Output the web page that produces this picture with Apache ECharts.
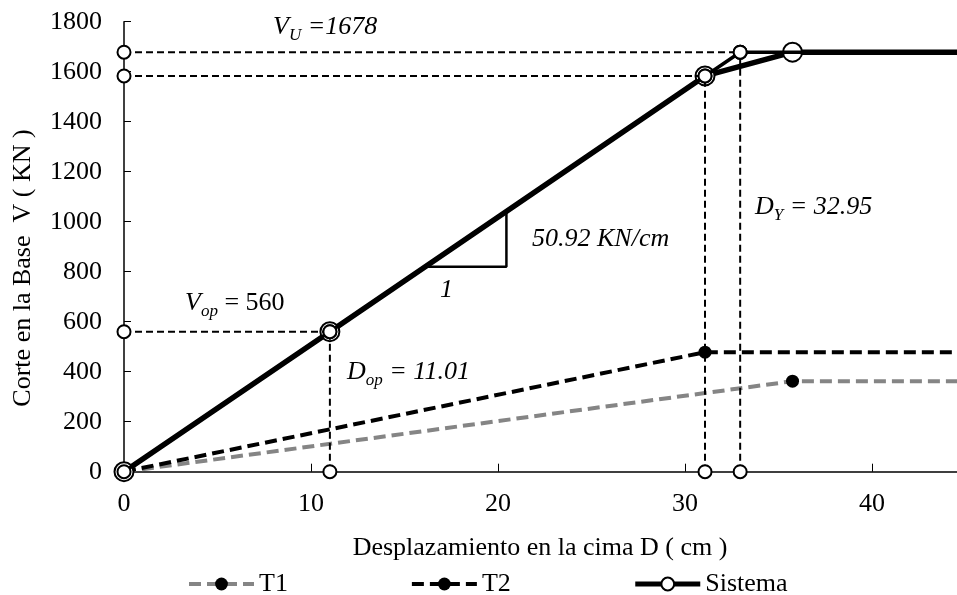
<!DOCTYPE html>
<html>
<head>
<meta charset="utf-8">
<script src="https://cdn.jsdelivr.net/npm/echarts@6/dist/echarts.min.js"></script>
<style>
html,body{margin:0;padding:0;background:#fff;}
#chart{width:957px;height:595px;}
</style>
</head>
<body>
<div id="chart"></div>
<script>
// ---- data ----
const sistemaX = [0, 11.01, 31.07, 35.75, 45];
const sistemaV = [0, 560, 1583, 1678, 1678];
const bilinearX = [0, 32.95, 45];
const bilinearV = [0, 1678, 1678];
const t1X = [0, 35.75, 45];
const t1V = [0, 362, 362];
const t2X = [0, 31.07, 45];
const t2V = [0, 478, 478];
const refD = [11.01, 31.07, 32.95];
const refV = [560, 1583, 1678];
const slopeX = [16.25, 20.45, 20.45];
const slopeV = [820, 820, 1040];
const legendNames = ['T1', 'T2', 'Sistema'];
const xMin = 0, xMax = 45, xInterval = 10;
const yMin = 0, yMax = 1800, yInterval = 200;
const xTitle = 'Desplazamiento en la cima D ( cm )';
const yTitle = 'Corte en la Base  V ( KN )';

const FONT = '"Liberation Serif", "Times New Roman", serif';
const FS = 26;

function pairs(xs, ys) {
  return xs.map((x, i) => (i === xs.length - 1 ? { value: [x, ys[i]], symbol: 'none' } : [x, ys[i]]));
}

const series = [];
series.push({
  name: 'T1', type: 'line', data: pairs(t1X, t1V),
  lineStyle: { color: '#858585', width: 4, type: [12, 6] },
  symbol: 'circle', symbolSize: 13,
  itemStyle: { color: '#000', borderColor: '#000', borderWidth: 0 },
  z: 2
});
series.push({
  name: 'T2', type: 'line', data: pairs(t2X, t2V),
  lineStyle: { color: '#000', width: 4, type: [12, 6] },
  symbol: 'circle', symbolSize: 13,
  itemStyle: { color: '#000', borderColor: '#000', borderWidth: 0 },
  z: 2
});
series.push({
  name: 'Sistema', type: 'line',
  data: pairs(sistemaX, sistemaV),
  lineStyle: { color: '#000', width: 5.5, type: 'solid' },
  symbol: 'circle', symbolSize: 19,
  itemStyle: { color: '#fff', borderColor: '#000', borderWidth: 2 },
  z: 3
});
// reference dashed lines
refD.forEach((d, i) => {
  const v = refV[i];
  const mk = () => ({
    type: 'line', symbol: 'circle', symbolSize: 13,
    lineStyle: { color: '#000', width: 2, type: [7, 4] },
    itemStyle: { color: '#fff', borderColor: '#000', borderWidth: 2 },
    z: 4, silent: true
  });
  series.push(Object.assign(mk(), { name: 'h' + i, data: [[0, v], [d, v]] }));
  series.push(Object.assign(mk(), { name: 'v' + i, data: [[d, 0], [d, v]] }));
});
series.push({
  name: 'bilineal', type: 'line', data: pairs(bilinearX, bilinearV),
  lineStyle: { color: '#000', width: 3.5, type: 'solid' },
  symbol: 'circle', symbolSize: 13,
  itemStyle: { color: '#fff', borderColor: '#000', borderWidth: 2 },
  z: 4
});
series.push({
  name: 'pendiente', type: 'line', data: slopeX.map((x, i) => [x, slopeV[i]]),
  lineStyle: { color: '#000', width: 2.5, type: 'solid' },
  symbol: 'none', z: 3, silent: true
});

const it = { fontFamily: FONT, fontSize: FS, fontStyle: 'italic', color: '#000', lineHeight: 34, verticalAlign: 'middle' };
const up = { fontFamily: FONT, fontSize: FS, fontStyle: 'normal', color: '#000', lineHeight: 34, verticalAlign: 'middle' };
const sub = { fontFamily: FONT, fontSize: 17, fontStyle: 'italic', color: '#000', lineHeight: 34, verticalAlign: 'bottom' };
function label(x, y, text) {
  return { type: 'text', x: x, y: y, z: 20,
    style: { text: text, rich: { i: it, u: up, s: sub }, verticalAlign: 'middle', align: 'left' } };
}

const option = {
  animation: false,
  backgroundColor: '#fff',
  grid: { left: 124, width: 841.5, top: 21.7, bottom: 123.3, containLabel: false, outerBoundsMode: 'none' },
  xAxis: {
    type: 'value', min: xMin, max: xMax, interval: xInterval,
    axisLine: { show: true, lineStyle: { color: '#000', width: 1.5 } },
    axisTick: { show: true, inside: true, length: 8, lineStyle: { color: '#000', width: 1 } },
    axisLabel: { fontFamily: FONT, fontSize: FS, color: '#000', margin: 19,
      formatter: v => (v > 40 ? '' : String(v)) },
    splitLine: { show: false }
  },
  yAxis: {
    type: 'value', min: yMin, max: yMax, interval: yInterval,
    axisLine: { show: true, lineStyle: { color: '#000', width: 1.5 } },
    axisTick: { show: true, inside: true, length: 7, lineStyle: { color: '#000', width: 1 } },
    axisLabel: { fontFamily: FONT, fontSize: FS, color: '#000', margin: 22,
      formatter: v => String(v) },
    splitLine: { show: false }
  },
  legend: {
    data: [
      { name: 'T1', lineStyle: { width: 4 } },
      { name: 'T2', lineStyle: { width: 4 } },
      { name: 'Sistema', lineStyle: { width: 5 } }
    ],
    left: 182, top: 566, itemWidth: 65, itemHeight: 16, itemGap: 122,
    selectedMode: false,
    textStyle: { fontFamily: FONT, fontSize: FS, color: '#000' }
  },
  graphic: [
    { type: 'text', x: 540, y: 548, z: 20,
      style: { text: xTitle, fontFamily: FONT, fontSize: FS, fill: '#000', align: 'center', verticalAlign: 'middle' } },
    { type: 'text', x: 23, y: 268, rotation: Math.PI / 2, z: 20,
      style: { text: yTitle, fontFamily: FONT, fontSize: FS, fill: '#000', align: 'center', verticalAlign: 'middle' } },
    label(273, 27, '{i|V}{s|U}{i| =1678}'),
    label(185, 303, '{i|V}{s|op}{u| = 560}'),
    label(347, 372, '{i|D}{s|op}{i| = 11.01}'),
    label(440, 290, '{i|1}'),
    label(532, 239, '{i|50.92 KN/cm}'),
    label(755, 207, '{i|D}{s|Y}{i| = 32.95}')
  ],
  series: series
};

const chart = echarts.init(document.getElementById('chart'), null, { renderer: 'canvas' });
chart.setOption(option);
</script>
</body>
</html>
